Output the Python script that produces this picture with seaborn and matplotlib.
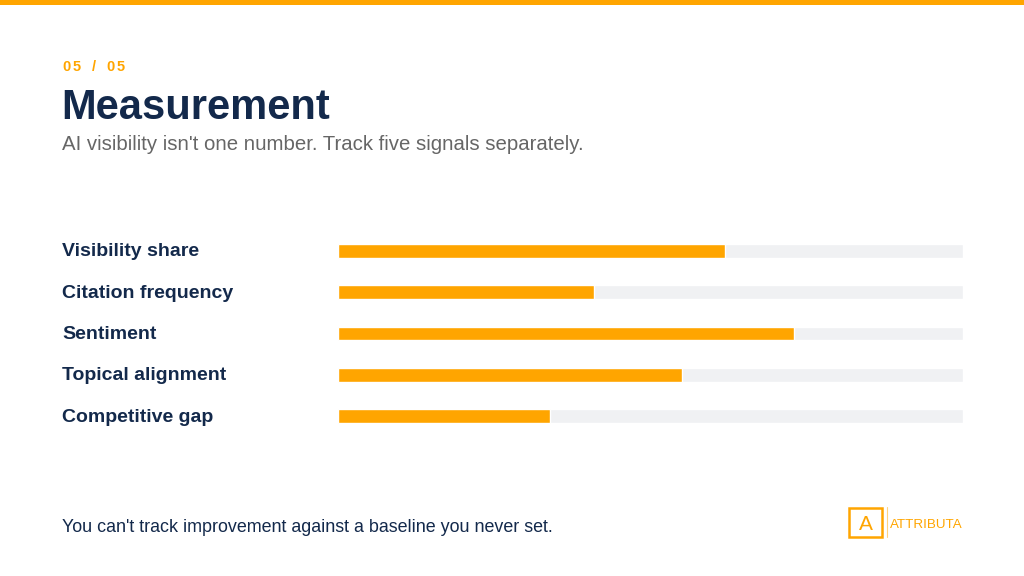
import matplotlib
matplotlib.use("Agg")
import matplotlib.pyplot as plt
import matplotlib.transforms as mtransforms
from matplotlib.patches import Rectangle
from matplotlib.lines import Line2D
import pandas as pd
import seaborn as sns

# data
signals = ["Visibility share", "Citation frequency", "Sentiment",
           "Topical alignment", "Competitive gap"]
scores = [0.62, 0.41, 0.73, 0.55, 0.34]
track_full = [1.0, 1.0, 1.0, 1.0, 1.0]

kicker = "05/05"
title = "Measurement"
subtitle = "AI visibility isn't one number. Track five signals separately."
footer = "You can't track improvement against a baseline you never set."
brand = "ATTRIBUTA"

ORANGE = "#FFA500"
NAVY = "#13294B"
GREY = "#666666"
TRACK = "#F0F1F3"

W, H = 1024, 576


def fx(px):
    return px / W


def fy(py):
    return 1 - py / H


sns.set_theme(style="white")
plt.rcParams["font.family"] = ["Liberation Sans", "DejaVu Sans"]

fig = plt.figure(figsize=(W / 100, H / 100), dpi=100)
fig.patch.set_facecolor("white")

# orange strip along the top edge
fig.add_artist(Rectangle((0, fy(5)), 1, 5 / H, transform=fig.transFigure,
                         color=ORANGE, lw=0))

# header: kicker placed char by char for the wide letter spacing
kicker_px = [62, 72.5, 92, 106, 116.5]
for ch, px in zip(kicker, kicker_px):
    fig.text(fx(px), fy(71), ch, color=ORANGE, fontsize=10.5,
             fontweight="bold", va="baseline")
fig.text(fx(61), fy(119), title, color=NAVY, fontsize=30,
         fontweight="bold", va="baseline")
fig.text(fx(62), fy(150.5), subtitle, color=GREY, fontsize=14.7,
         va="baseline")

# bars
top, bottom = 230.1, 436.7
ax = fig.add_axes([fx(338), fy(bottom), fx(962.7) - fx(338),
                   (bottom - top) / H])
df = pd.DataFrame({"signal": signals, "score": scores, "track": track_full})
sns.barplot(data=df, y="signal", x="track", color=TRACK, width=0.33,
            saturation=1, ax=ax)
sns.barplot(data=df, y="signal", x="score", color=ORANGE, width=0.33,
            saturation=1, ax=ax)
ax.set_xlim(0, 1)
ax.set_ylim(len(signals) - 0.5, -0.5)
ax.axis("off")

trans = mtransforms.blended_transform_factory(fig.transFigure, ax.transData)
for i, name in enumerate(signals):
    ax.text(fx(62), i + 0.03, name, transform=trans, color=NAVY, fontsize=14,
            fontweight="bold", va="center", ha="left", clip_on=False)

# footer
fig.text(fx(62), fy(532), footer, color=NAVY, fontsize=12.9, va="baseline")

# logo mark
fig.add_artist(Rectangle((fx(849), fy(536.5)), 33 / W, 29 / H,
                         transform=fig.transFigure, fill=False,
                         ec=ORANGE, lw=1.8))
fig.text(fx(865.5), fy(530), "A", color=ORANGE, fontsize=15,
         ha="center", va="baseline")
fig.add_artist(Line2D([fx(886.5), fx(886.5)], [fy(507), fy(537)],
                      transform=fig.transFigure, color="#FFD280", lw=0.8))
fig.text(fx(890), fy(528.5), brand, color=ORANGE, fontsize=9.6,
         va="baseline")

fig.savefig("out.png", dpi=100, facecolor="white")
